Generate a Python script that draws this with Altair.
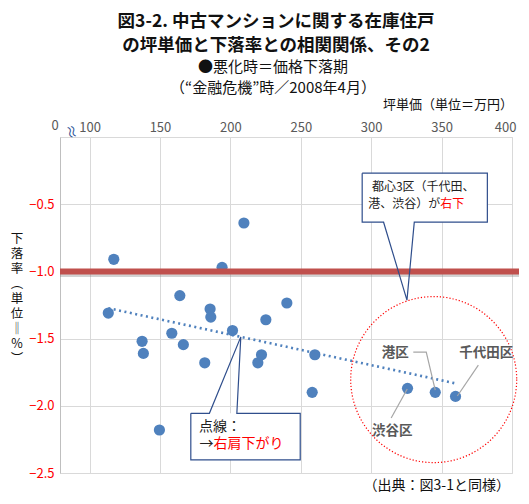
import altair as alt
import pandas as pd

FONT = "Noto Sans CJK JP"

# ---- data ----
price = [113.3, 117.2, 137.3, 138.2, 149.6, 158.4, 164.1, 166.6, 181.8, 185.6, 186.1,
         194.1, 201.5, 209.6, 219.5, 222.1, 225.2, 240.1, 258.1, 260.0, 325.8, 345.5, 359.9]
decline = [-1.31, -0.91, -1.52, -1.61, -2.18, -1.46, -1.18, -1.545, -1.68, -1.28, -1.34,
           -0.97, -1.44, -0.64, -1.68, -1.62, -1.36, -1.235, -1.90, -1.62, -1.87, -1.90, -1.93]

x_ticks = [100, 150, 200, 250, 300, 350, 400]
y_ticks = [-2.5, -2.0, -1.5, -1.0, -0.5]

title_lines = ["図3-2. 中古マンションに関する在庫住戸", "の坪単価と下落率との相関関係、その2"]
sub_lines = ["●悪化時＝価格下落期", "（“金融危機”時／2008年4月）"]
x_title = "坪単価（単位＝万円）"
y_title_chars = ["下", "落", "率", "︵", "単", "位", "‖", "%", "︶"]
source = "（出典：図3-1と同様）"

threshold = -1.0

# callout 1 (dotted trend line)
box1_x = [171.9, 249.6]
box1_y = [-2.056, -2.403]
box1_outline_x = [171.9, 185.1, 207.4, 204.6, 249.6, 249.6, 171.9, 171.9]
box1_outline_y = [-2.056, -2.056, -1.487, -2.056, -2.056, -2.403, -2.403, -2.056]
# callout 2 (3 central wards)
box2_x = [293.6, 382.5]
box2_y = [-0.2695, -0.634]
box2_outline_x = [293.6, 382.5, 382.5, 330.6, 325.4, 308.8, 293.6, 293.6]
box2_outline_y = [-0.2695, -0.2695, -0.634, -0.634, -1.214, -0.634, -0.634, -0.2695]

ward_names = ["港区", "千代田区", "渋谷区"]
ward_label_x = [317.1, 381.8, 315.0]
ward_label_y = [-1.608, -1.608, -2.188]
leader_g = [0, 0, 0, 1, 1, 2, 2]
leader_x = [329.9, 339.1, 345.5, 376.1, 361.2, 325.6, 314.2]
leader_y = [-1.60, -1.60, -1.883, -1.697, -1.927, -1.875, -2.091]

circle_x = [344.4]
circle_y = [-1.805]

W, H = 452, 336
xs = alt.Scale(domain=[79, 400], nice=False, zero=False)
ys = alt.Scale(domain=[-2.5, 0], nice=False, zero=False)

df = pd.DataFrame({"x": price, "y": decline})

BLUE = "#4F81BD"
GRID = "#D9D9D9"

points = alt.Chart(df).mark_circle(size=125, color=BLUE, opacity=1).encode(
    x=alt.X("x:Q", scale=xs,
            axis=alt.Axis(orient="top", values=x_ticks, title=None, ticks=False,
                          labelFlush=1, labelFlushOffset=4,
                          labelColor="#595959", labelFontSize=13, labelFont=FONT,
                          domainColor=GRID, gridColor=GRID, labelPadding=3, format="d")),
    y=alt.Y("y:Q", scale=ys,
            axis=alt.Axis(values=y_ticks, title=None, ticks=False, format=".1f", labelFlush=False,
                          labelColor="#FF0000", labelFontSize=13, labelFont=FONT,
                          domainColor="#BFBFBF", gridColor=GRID, labelPadding=6)),
)

trend = alt.Chart(df).transform_regression("x", "y").mark_line(
    color=BLUE, strokeDash=[2, 3.5], strokeWidth=2.6
).encode(x=alt.X("x:Q", scale=xs), y=alt.Y("y:Q", scale=ys))

thr = pd.DataFrame({"y": [threshold]})
shadow = alt.Chart(thr).mark_rule(color="#7f7f7f", opacity=0.35, strokeWidth=5, yOffset=3).encode(
    y=alt.Y("y:Q", scale=ys), x=alt.value(0), x2=alt.value(459))
redline = alt.Chart(thr).mark_rule(color="#C0504D", strokeWidth=6).encode(
    y=alt.Y("y:Q", scale=ys), x=alt.value(0), x2=alt.value(459))

circ = alt.Chart(pd.DataFrame({"x": circle_x, "y": circle_y})).mark_point(
    shape="circle", size=166 * 166, filled=False, color="#FF0000", strokeWidth=1.2,
    strokeDash=[1.2, 2], opacity=1
).encode(x=alt.X("x:Q", scale=xs), y=alt.Y("y:Q", scale=ys))

def box(bx, by, ox, oy):
    rect = alt.Chart(pd.DataFrame({"x": [bx[0]], "x2": [bx[1]], "y": [by[0]], "y2": [by[1]]})).mark_rect(
        fill="white").encode(x=alt.X("x:Q", scale=xs), x2="x2", y=alt.Y("y:Q", scale=ys), y2="y2")
    tri = alt.Chart(pd.DataFrame({"x": ox, "y": oy, "o": list(range(len(ox)))})).mark_line(
        color="#2F4E8C", strokeWidth=1.2).encode(
        x=alt.X("x:Q", scale=xs), y=alt.Y("y:Q", scale=ys), order="o:O")
    return rect + tri

box1 = box(box1_x, box1_y, box1_outline_x, box1_outline_y)
box2 = box(box2_x, box2_y, box2_outline_x, box2_outline_y)

def txt(x, y, s, color="#222222", size=14, align="left", weight="normal"):
    return alt.Chart(pd.DataFrame({"x": [x], "y": [y], "t": [s]})).mark_text(
        align=align, baseline="middle", font=FONT, fontSize=size, color=color, fontWeight=weight
    ).encode(x=alt.X("x:Q", scale=xs), y=alt.Y("y:Q", scale=ys), text="t:N")

ann = [
    txt(177.8, -2.158, "点線：", size=14),
    txt(188.0, -2.284, "→", size=14, align="right"),
    txt(188.0, -2.284, "右肩下がり", color="#FF0000", size=14),
    txt(300.5, -0.374, "都心3区（千代田、", size=12),
    txt(349.1, -0.500, "港、渋谷）が", size=12, align="right"),
    txt(349.1, -0.500, "右下", color="#FF0000", size=12),
]

leaders = alt.Chart(pd.DataFrame({"x": leader_x, "y": leader_y, "g": leader_g,
                                  "o": list(range(len(leader_x)))})).mark_line(
    color="#A6A6A6", strokeWidth=1.2).encode(
    x=alt.X("x:Q", scale=xs), y=alt.Y("y:Q", scale=ys), detail="g:N", order="o:O")

wards = alt.Chart(pd.DataFrame({"x": ward_label_x, "y": ward_label_y, "t": ward_names})).mark_text(
    font=FONT, fontSize=13.5, fontWeight="bold", color="#595959", baseline="middle"
).encode(x=alt.X("x:Q", scale=xs), y=alt.Y("y:Q", scale=ys), text="t:N")

def ptxt(px, py, s, size, align="center", color="#111111", weight="normal", baseline="middle",
         lh=None, angle=None):
    kw = dict(align=align, baseline=baseline, font=FONT, fontSize=size, color=color, fontWeight=weight)
    if lh:
        kw["lineHeight"] = lh
    if angle is not None:
        kw["angle"] = angle
    return alt.Chart(pd.DataFrame({"a": [0]})).mark_text(**kw).encode(
        x=alt.value(px), y=alt.value(py), text=alt.value(s))

titles = [
    ptxt(216, -115, title_lines[0], 17.5, weight="bold"),
    ptxt(216, -91, title_lines[1], 17.5, weight="bold"),
    ptxt(213, -70, sub_lines[0], 15),
    ptxt(213, -49, sub_lines[1], 15),
    ptxt(453, -32, x_title, 13, align="right"),
    ptxt(-5, -11, "0", 13, color="#595959"),
    ptxt(11, -5, "≈", 15, color="#2F5597", angle=75),
    ptxt(-43, 96, y_title_chars, 12.5, baseline="top", lh=15),
    ptxt(450, 349, source, 14, align="right"),
]

chart = alt.layer(
    points, trend, shadow, redline, circ, box1, box2, *ann, leaders, wards, *titles
).properties(
    width=W, height=H,
    autosize=alt.AutoSizeParams(type="none"),
    padding={"left": 52, "top": 129, "right": 9, "bottom": 20},
).configure_view(stroke=None).configure(background="white")

chart.save("out.html", embed_options={"renderer": "svg", "actions": False})
